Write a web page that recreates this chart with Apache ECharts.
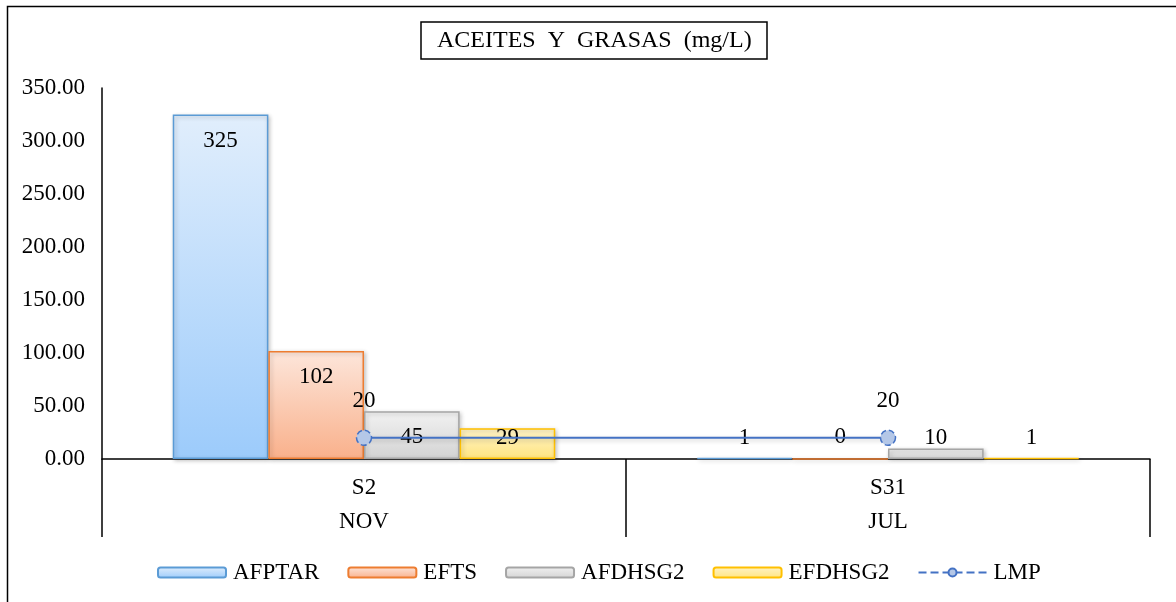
<!DOCTYPE html>
<html>
<head>
<meta charset="utf-8">
<script src="https://cdn.jsdelivr.net/npm/echarts@6/dist/echarts.min.js"></script>
<style>
  html, body { margin: 0; padding: 0; background: #fff; }
  #chart { width: 1176px; height: 602px; }
</style>
</head>
<body>
<div id="chart"></div>
<script>
// Sampling points and campaigns
const sites = ['S2', 'S31'];
const months = ['NOV', 'JUL'];

// Oil and grease results (mg/L) per stream
const afptar = [325, 1];
const efts = [102, 0];
const afdhsg2 = [45, 10];
const efdhsg2 = [29, 1];
// Maximum permissible limit
const lmp = [20, 20];

// Value axis range
const Y_MIN = 0;
const Y_MAX = 350;
const Y_STEP = 50;

// Layout
const W = 1176, H = 602;
const GRID = { left: 102, right: 26, top: 88, bottom: 143 };
const FONT = 'Liberation Serif, "Times New Roman", serif';
const FS = 23;
const pxPerUnit = (H - GRID.top - GRID.bottom) / (Y_MAX - Y_MIN);

// Labels sit just inside the bar top; short bars keep them at a common floor height
function barLabel(v) {
  const barTop = (v - Y_MIN) * pxPerUnit;
  const center = Math.max(barTop - 26, 21);
  const defaultCenter = barTop + FS / 2;
  return { position: 'top', distance: 0, offset: [0, defaultCenter - center] };
}

function grad(top, bottom) {
  return new echarts.graphic.LinearGradient(0, 0, 0, 1, [
    { offset: 0, color: top },
    { offset: 1, color: bottom }
  ]);
}

function barSeries(name, values, top, bottom, border) {
  return {
    name: name,
    type: 'bar',
    barGap: '0%',
    barCategoryGap: '27%',
    data: values.map(v => ({ value: v, label: barLabel(v) })),
    itemStyle: {
      color: grad(top, bottom),
      borderColor: border,
      borderWidth: 1.5,
      shadowBlur: 4,
      shadowOffsetX: 1.5,
      shadowOffsetY: 1.5,
      shadowColor: 'rgba(0,0,0,0.22)'
    },
    label: {
      show: true,
      color: '#000',
      fontFamily: FONT,
      fontSize: FS
    }
  };
}

const chart = echarts.init(document.getElementById('chart'), null, { renderer: 'canvas' });

chart.setOption({
  backgroundColor: '#fff',
  animation: false,
  graphic: [{
    type: 'rect',
    silent: true,
    z: -10,
    shape: { x: 7.5, y: 6.5, width: 1400, height: 800 },
    style: { fill: 'none', stroke: '#000', lineWidth: 1.5 }
  }],
  title: {
    text: 'ACEITES  Y  GRASAS  (mg/L)',
    left: 421,
    top: 22,
    padding: [7, 16, 6, 16],
    borderColor: '#000',
    borderWidth: 1.5,
    textStyle: { fontFamily: FONT, fontSize: 24, fontWeight: 'normal', color: '#000' }
  },
  legend: {
    top: 556,
    left: 152,
    itemWidth: 68,
    itemHeight: 10,
    itemGap: 28,
    textStyle: { fontFamily: FONT, fontSize: FS, color: '#000', padding: [0, 0, 0, 2] },
    data: ['AFPTAR', 'EFTS', 'AFDHSG2', 'EFDHSG2',
      { name: 'LMP', lineStyle: { type: 'dashed' } }]
  },
  grid: { left: GRID.left, right: GRID.right, top: GRID.top, bottom: GRID.bottom, containLabel: false },
  xAxis: {
    type: 'category',
    data: sites,
    axisLine: { lineStyle: { color: '#000', width: 1.5 } },
    axisTick: { show: true, length: 78, lineStyle: { color: '#000', width: 1.5 } },
    axisLabel: {
      margin: 12,
      formatter: (v, i) => '{s|' + v + '}\n{m|' + months[i] + '}',
      rich: {
        s: { fontFamily: FONT, fontSize: FS, color: '#000', lineHeight: 34 },
        m: { fontFamily: FONT, fontSize: FS, color: '#000', lineHeight: 34 }
      }
    }
  },
  yAxis: {
    type: 'value',
    min: Y_MIN,
    max: Y_MAX,
    interval: Y_STEP,
    axisLine: { show: true, lineStyle: { color: '#000', width: 1.5 } },
    axisTick: { show: false },
    splitLine: { show: false },
    axisLabel: {
      margin: 17,
      fontFamily: FONT,
      fontSize: FS,
      color: '#000',
      formatter: v => v.toFixed(2)
    }
  },
  series: [
    barSeries('AFPTAR', afptar, '#e1eefc', '#9ccbfb', '#5b9bd5'),
    barSeries('EFTS', efts, '#fde6db', '#f9b08b', '#ed7d31'),
    barSeries('AFDHSG2', afdhsg2, '#f2f2f2', '#d3d3d3', '#a5a5a5'),
    barSeries('EFDHSG2', efdhsg2, '#fff4c8', '#ffe480', '#ffc000'),
    {
      name: 'LMP',
      type: 'line',
      data: lmp,
      z: 5,
      symbol: 'circle',
      symbolSize: 15,
      lineStyle: {
        color: '#4472c4',
        width: 2,
        shadowBlur: 4,
        shadowOffsetY: 2,
        shadowColor: 'rgba(0,0,0,0.2)'
      },
      itemStyle: {
        color: '#b4c7e7',
        borderColor: '#4472c4',
        borderWidth: 1.5,
        borderType: 'dashed'
      },
      label: {
        show: true,
        position: 'top',
        distance: 17,
        color: '#000',
        fontFamily: FONT,
        fontSize: FS
      }
    }
  ]
});
</script>
</body>
</html>
